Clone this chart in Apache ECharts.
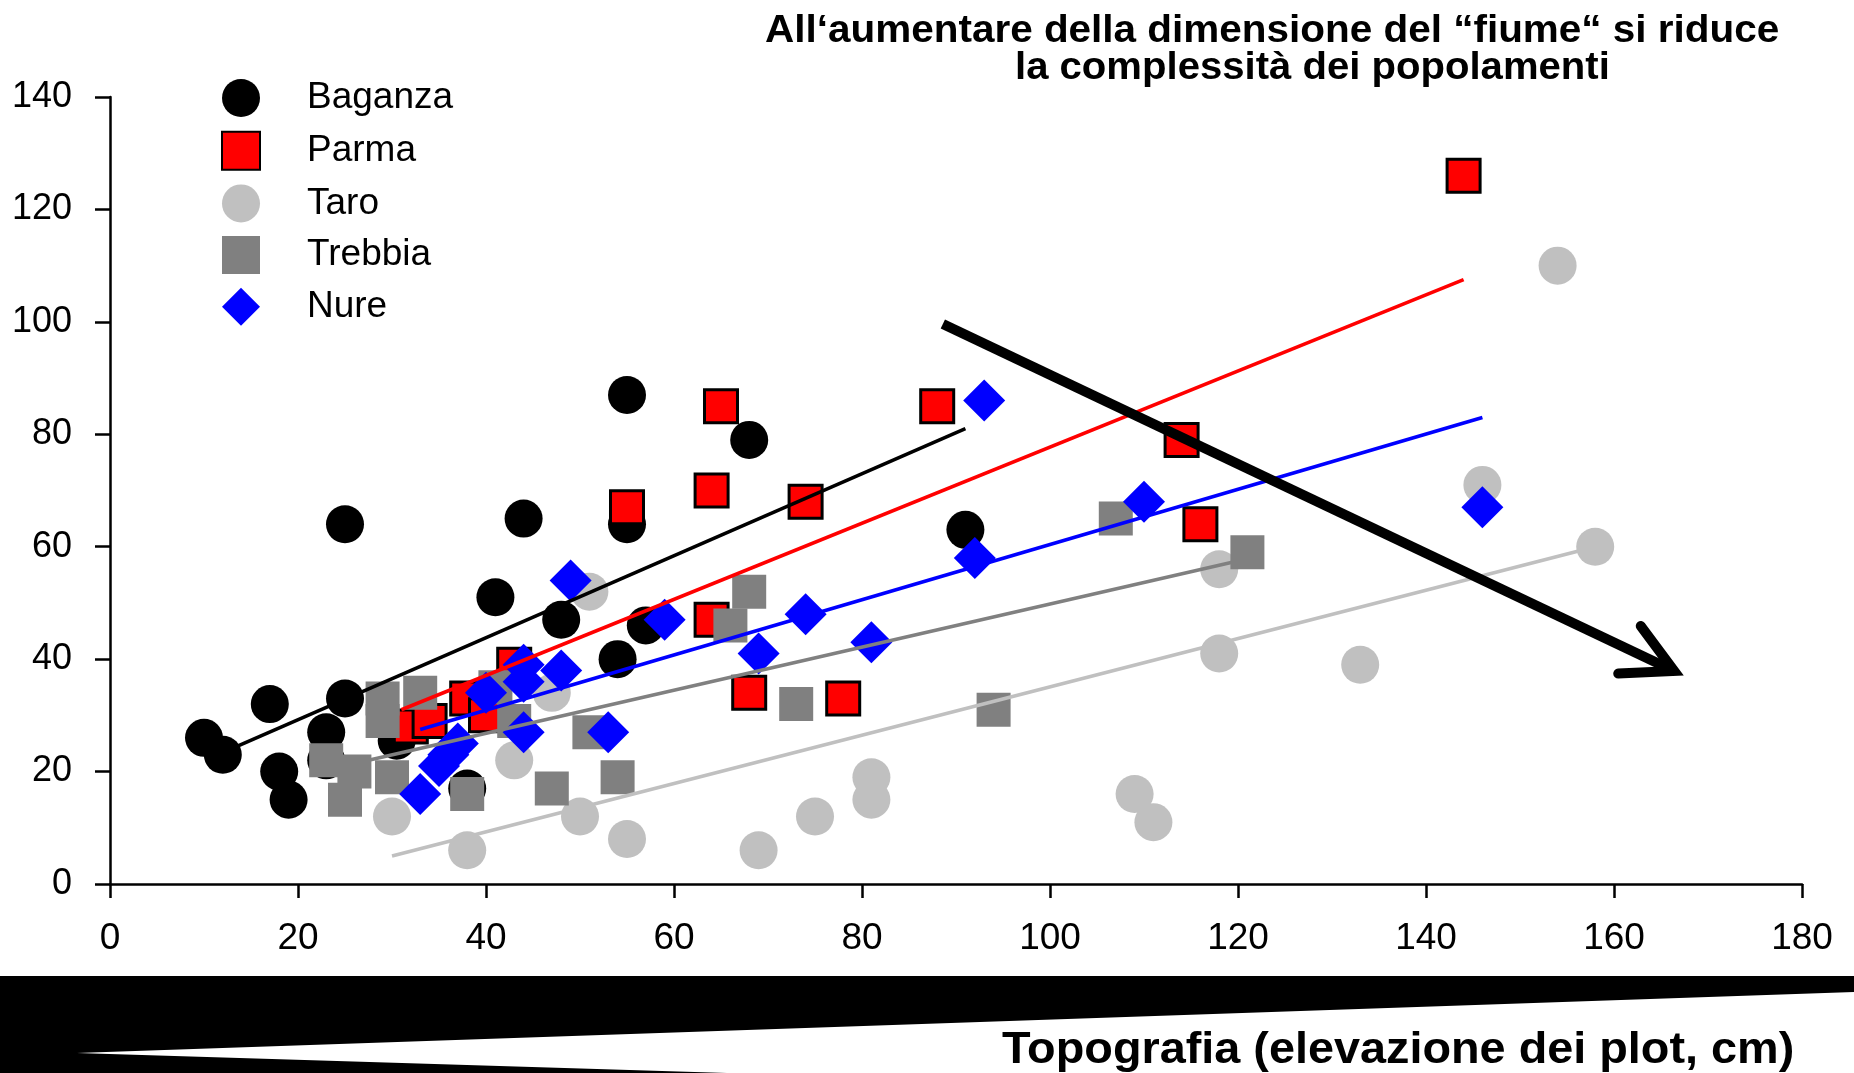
<!DOCTYPE html>
<html>
<head>
<meta charset="utf-8">
<title>Topografia e complessità dei popolamenti</title>
<script src="https://cdn.jsdelivr.net/npm/echarts@6/dist/echarts.min.js"></script>
<style>
  html, body { margin: 0; padding: 0; background: #fff; }
  #chart { width: 1854px; height: 1073px; }
</style>
</head>
<body>
<div id="chart"></div>
<script>
// points: [topografia cm, valore]
const baganza = [[10, 26], [12, 23], [17, 32], [18, 20], [19, 15], [23, 27], [23, 22], [25, 64], [25, 33], [30.5, 25.5],
  [38, 17], [41, 51], [44, 65], [48, 47], [54, 40], [55, 87], [55, 64], [57, 46], [68, 79], [91, 63]]
const parma = [[32, 28], [34, 29], [38, 33], [40, 30], [43, 39], [55, 67], [64, 70], [64, 47], [65, 85], [68, 34],
  [74, 68], [78, 33], [88, 85], [114, 79], [116, 64], [144, 126]]
const taro = [[30, 12], [38, 6], [43, 22], [47, 34], [50, 12], [51, 52], [55, 8], [69, 6], [75, 12], [81, 19],
  [81, 15], [109, 16], [111, 11], [118, 56], [118, 41], [133, 39], [146, 71], [154, 110], [158, 60]]
const trebbia = [[23, 22], [25, 15], [26, 20], [29, 33], [29, 29], [30, 19], [33, 34], [38, 16], [41, 35], [43, 29],
  [47, 17], [51, 27], [54, 19], [66, 46], [68, 52], [73, 32], [94, 31], [107, 65], [121, 59]]
const nure = [[33, 16], [35, 21], [36, 23], [37, 25], [40, 34], [44, 39], [44, 36], [44, 27], [48, 38], [49, 54],
  [53, 27], [59, 47], [69, 41], [74, 48], [81, 43], [92, 58], [93, 86], [110, 68], [146, 67]]

// regression lines (end points)
const fitBaganza = [[13.5, 24.5], [91, 81]]
const fitParma = [[31, 31], [144, 107.5]]
const fitTaro = [[30, 5], [158, 60]]
const fitTrebbia = [[27.5, 22], [119.5, 57.3]]
const fitNure = [[33, 27.5], [146, 83]]

// big trend arrow [x0, y0, x1, y1]
const trendArrow = [[88.6, 99.6, 166.4, 37.9]]

const riverNames = ['Baganza', 'Parma', 'Taro', 'Trebbia', 'Nure']
const titleLines = ['All\u2018aumentare della dimensione del \u201cfiume\u201c si riduce', 'la complessità dei popolamenti']
const xTitle = 'Topografia (elevazione dei plot, cm)'

const FONT = '"Liberation Sans", Arial, sans-serif'

function scatter(name, data, symbol, size, color, border) {
  return {
    name: name,
    type: 'scatter',
    data: data,
    symbol: symbol,
    symbolSize: size,
    itemStyle: {
      color: color,
      opacity: 1,
      borderColor: border ? '#000' : color,
      borderWidth: border ? 3 : 0
    },
    emphasis: { disabled: true },
    silent: true
  }
}

function fitLine(data, color) {
  return {
    name: 'fit-' + color,
    type: 'line',
    data: data,
    showSymbol: false,
    symbol: 'none',
    lineStyle: { color: color, width: 3.6 },
    silent: true,
    z: 3
  }
}

const chart = echarts.init(document.getElementById('chart'))

chart.setOption({
  animation: false,
  backgroundColor: '#fff',
  grid: { left: 110, right: 52, top: 97, bottom: 189 },
  xAxis: {
    type: 'value',
    min: 0,
    max: 180,
    interval: 20,
    axisLine: { show: true, onZero: false, lineStyle: { color: '#000', width: 2.5 } },
    axisTick: { show: true, length: 14, lineStyle: { color: '#000', width: 2.5 } },
    axisLabel: { fontSize: 37, color: '#000', fontFamily: FONT, margin: 36 },
    splitLine: { show: false }
  },
  yAxis: {
    type: 'value',
    min: 0,
    max: 140,
    interval: 20,
    axisLine: { show: true, lineStyle: { color: '#000', width: 2.5 } },
    axisTick: { show: true, length: 15, lineStyle: { color: '#000', width: 2.5 } },
    axisLabel: { fontSize: 36, color: '#000', fontFamily: FONT, margin: 38 },
    splitLine: { show: false }
  },
  legend: {
    data: riverNames,
    orient: 'vertical',
    left: 221,
    top: 79,
    padding: 0,
    itemWidth: 38,
    itemHeight: 38,
    itemGap: 13.7,
    selectedMode: false,
    textStyle: { fontSize: 37, color: '#000', fontFamily: FONT, padding: [0, 0, 0, 42] }
  },
  series: [
    scatter('Baganza', baganza, 'circle', 38, '#000000', false),
    scatter('Parma', parma, 'rect', 33, '#ff0000', true),
    scatter('Taro', taro, 'circle', 38, '#c0c0c0', false),
    scatter('Trebbia', trebbia, 'rect', 34, '#808080', false),
    scatter('Nure', nure, 'diamond', 42, '#0000ff', false),
    fitLine(fitBaganza, '#000000'),
    fitLine(fitParma, '#ff0000'),
    fitLine(fitTaro, '#c0c0c0'),
    fitLine(fitTrebbia, '#808080'),
    fitLine(fitNure, '#0000ff'),
    {
      name: 'trend',
      type: 'custom',
      data: trendArrow,
      encode: { x: [0, 2], y: [1, 3] },
      silent: true,
      z: 5,
      renderItem: function (params, api) {
        const p0 = api.coord([api.value(0), api.value(1)])
        const p1 = api.coord([api.value(2), api.value(3)])
        const ang = Math.atan2(p1[1] - p0[1], p1[0] - p0[0])
        const len = 56
        const spread = 28 * Math.PI / 180
        const b1 = [p1[0] - len * Math.cos(ang - spread), p1[1] - len * Math.sin(ang - spread)]
        const b2 = [p1[0] - len * Math.cos(ang + spread), p1[1] - len * Math.sin(ang + spread)]
        return {
          type: 'group',
          children: [
            {
              type: 'line',
              shape: { x1: p0[0], y1: p0[1], x2: p1[0], y2: p1[1] },
              style: { stroke: '#000', lineWidth: 10, lineCap: 'butt' }
            },
            {
              type: 'polyline',
              shape: { points: [b1, p1, b2] },
              style: { stroke: '#000', fill: null, lineWidth: 10, lineCap: 'round', lineJoin: 'miter' }
            }
          ]
        }
      }
    }
  ],
  graphic: [
    {
      type: 'text',
      x: 765,
      y: 32,
      scaleX: 1.065,
      style: { text: titleLines[0], fontSize: 38, fontWeight: 'bold', fontFamily: FONT, fill: '#000', verticalAlign: 'middle' }
    },
    {
      type: 'text',
      x: 1015,
      y: 68.5,
      scaleX: 1.055,
      style: { text: titleLines[1], fontSize: 38, fontWeight: 'bold', fontFamily: FONT, fill: '#000', verticalAlign: 'middle' }
    },
    {
      type: 'rect',
      shape: { x: 0, y: 976, width: 1854, height: 97 },
      style: { fill: '#000' }
    },
    {
      type: 'polygon',
      shape: { points: [[77, 1053], [1854, 992], [1854, 1073], [727, 1073]] },
      style: { fill: '#fff' }
    },
    {
      type: 'text',
      x: 1002,
      y: 1051,
      scaleX: 1.04,
      style: { text: xTitle, fontSize: 45, fontWeight: 'bold', fontFamily: FONT, fill: '#000', verticalAlign: 'middle' }
    }
  ]
})
</script>
</body>
</html>
